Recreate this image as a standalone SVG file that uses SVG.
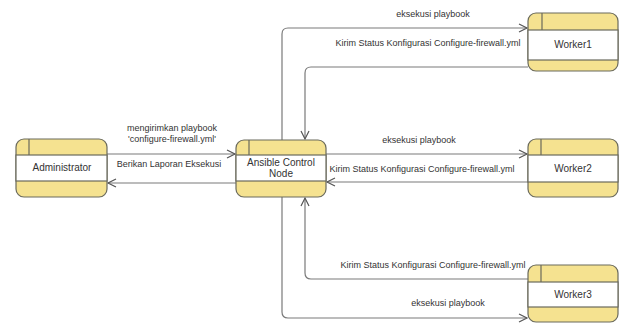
<svg xmlns="http://www.w3.org/2000/svg" width="620" height="323" viewBox="0 0 620 323">
<style>
.box{fill:#F5E290;stroke:#6a6a5c;stroke-width:1.2}
.band{fill:#ffffff;stroke:#6a6a5c;stroke-width:1.2}
.div{stroke:#6a6a5c;stroke-width:1.2}
.lbl{font-family:"Liberation Sans",Arial,sans-serif;font-size:9px;fill:#333;text-anchor:middle}
.nl{font-family:"Liberation Sans",Arial,sans-serif;font-size:10px;fill:#333;text-anchor:middle}
.c{fill:none;stroke:#7a7a7a;stroke-width:1.2}
</style>
<defs>
<marker id="ah" markerUnits="userSpaceOnUse" markerWidth="12" markerHeight="12" refX="9" refY="5" orient="auto">
<path d="M1,1 L9,5 L1,9" fill="none" stroke="#555" stroke-width="1.2"/>
</marker>
</defs>
<rect width="620" height="323" fill="#ffffff"/>
<g id="connectors">
<path class="c" d="M107,154 H235" marker-end="url(#ah)"/>
<path class="c" d="M236,183 H108" marker-end="url(#ah)"/>
<path class="c" d="M282,140 V34 Q282,28 288,28 H527" marker-end="url(#ah)"/>
<path class="c" d="M528,67 H311 Q305,67 305,73 V139" marker-end="url(#ah)"/>
<path class="c" d="M326,154 H527" marker-end="url(#ah)"/>
<path class="c" d="M528,182 H327" marker-end="url(#ah)"/>
<path class="c" d="M282,197 V312 Q282,318 288,318 H527" marker-end="url(#ah)"/>
<path class="c" d="M528,279 H311 Q305,279 305,273 V198" marker-end="url(#ah)"/>
<text class="lbl" x="172" y="131">mengirimkan playbook</text>
<text class="lbl" x="172" y="142">'configure-firewall.yml'</text>
<text class="lbl" x="169" y="167">Berikan Laporan Eksekusi</text>
<text class="lbl" x="433" y="17">eksekusi playbook</text>
<text class="lbl" x="428" y="46">Kirim Status Konfigurasi Configure-firewall.yml</text>
<text class="lbl" x="419" y="143">eksekusi playbook</text>
<text class="lbl" x="422" y="172">Kirim Status Konfigurasi Configure-firewall.yml</text>
<text class="lbl" x="433" y="268">Kirim Status Konfigurasi Configure-firewall.yml</text>
<text class="lbl" x="448" y="306">eksekusi playbook</text>
</g>
<g id="administrator">
<rect class="box" x="16" y="139" width="91" height="58" rx="8"/>
<rect class="band" x="16" y="155" width="91" height="26"/>
<line class="div" x1="29" y1="139" x2="29" y2="155"/>
<text class="nl" x="62" y="171">Administrator</text>
</g>
<g id="ansible">
<rect class="box" x="236" y="140" width="90" height="57" rx="8"/>
<rect class="band" x="236" y="155" width="90" height="26"/>
<line class="div" x1="249" y1="140" x2="249" y2="155"/>
<text class="nl" x="281" y="166">Ansible Control</text>
<text class="nl" x="281" y="177">Node</text>
</g>
<g id="worker1">
<rect class="box" x="528" y="13" width="90" height="58" rx="8"/>
<rect class="band" x="528" y="30" width="90" height="30"/>
<line class="div" x1="542" y1="13" x2="542" y2="30"/>
<text class="nl" x="573" y="48">Worker1</text>
</g>
<g id="worker2">
<rect class="box" x="528" y="139" width="90" height="58" rx="8"/>
<rect class="band" x="528" y="155" width="90" height="27"/>
<line class="div" x1="541" y1="139" x2="541" y2="155"/>
<text class="nl" x="573" y="172">Worker2</text>
</g>
<g id="worker3">
<rect class="box" x="528" y="265" width="90" height="57" rx="8"/>
<rect class="band" x="528" y="282" width="90" height="25"/>
<line class="div" x1="541" y1="265" x2="541" y2="282"/>
<text class="nl" x="573" y="298">Worker3</text>
</g>
</svg>
